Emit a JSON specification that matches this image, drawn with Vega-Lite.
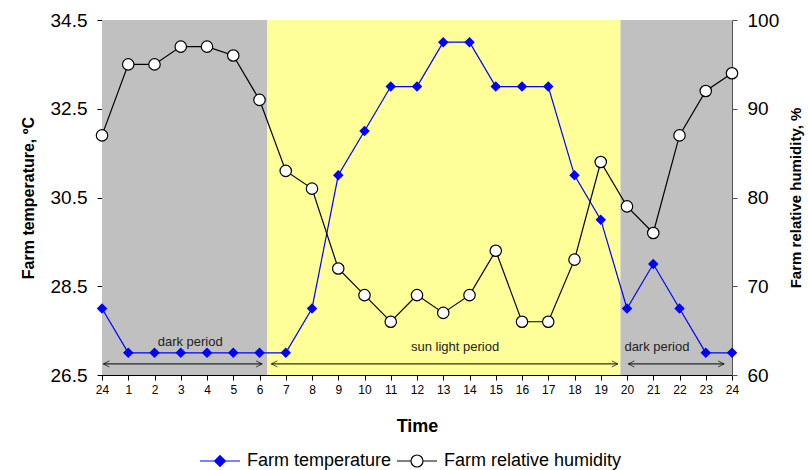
{
  "$schema": "https://vega.github.io/schema/vega-lite/v6.json",
  "width": 630,
  "height": 355,
  "autosize": {"type": "none"},
  "padding": {"left": 102, "top": 20, "right": 76, "bottom": 95},
  "config": {
    "font": "Liberation Sans",
    "view": {"stroke": null},
    "axis": {"grid": false, "domainColor": "#000", "tickColor": "#000", "labelColor": "#000", "titleColor": "#000", "domainWidth": 1, "tickWidth": 1},
    "legend": {"symbolFillColor": "#ffffff", "symbolStrokeColor": "#000000"}
  },
  "datasets": {
    "main": [
      {"i": 0, "temp": 28, "rh": 87}, {"i": 1, "temp": 27, "rh": 95}, {"i": 2, "temp": 27, "rh": 95},
      {"i": 3, "temp": 27, "rh": 97}, {"i": 4, "temp": 27, "rh": 97}, {"i": 5, "temp": 27, "rh": 96},
      {"i": 6, "temp": 27, "rh": 91}, {"i": 7, "temp": 27, "rh": 83}, {"i": 8, "temp": 28, "rh": 81},
      {"i": 9, "temp": 31, "rh": 72}, {"i": 10, "temp": 32, "rh": 69}, {"i": 11, "temp": 33, "rh": 66},
      {"i": 12, "temp": 33, "rh": 69}, {"i": 13, "temp": 34, "rh": 67}, {"i": 14, "temp": 34, "rh": 69},
      {"i": 15, "temp": 33, "rh": 74}, {"i": 16, "temp": 33, "rh": 66}, {"i": 17, "temp": 33, "rh": 66},
      {"i": 18, "temp": 31, "rh": 73}, {"i": 19, "temp": 30, "rh": 84}, {"i": 20, "temp": 28, "rh": 79},
      {"i": 21, "temp": 29, "rh": 76}, {"i": 22, "temp": 28, "rh": 87}, {"i": 23, "temp": 27, "rh": 92},
      {"i": 24, "temp": 27, "rh": 94}
    ],
    "bg": [
      {"i": 0, "i2": 6.3, "p": "dark"},
      {"i": 6.3, "i2": 19.75, "p": "light"},
      {"i": 19.75, "i2": 24, "p": "dark"}
    ],
    "arrows": [
      {"i": 0.05, "i2": 6.1, "temp": 26.75},
      {"i": 6.45, "i2": 19.65, "temp": 26.75},
      {"i": 20.05, "i2": 23.7, "temp": 26.75}
    ],
    "heads": [
      {"i": 0.05, "temp": 26.75, "d": "l"}, {"i": 6.1, "temp": 26.75, "d": "r"},
      {"i": 6.45, "temp": 26.75, "d": "l"}, {"i": 19.65, "temp": 26.75, "d": "r"},
      {"i": 20.05, "temp": 26.75, "d": "l"}, {"i": 23.7, "temp": 26.75, "d": "r"}
    ],
    "notes": [
      {"i": 3.36, "temp": 27.25, "t": "dark period"},
      {"i": 13.45, "temp": 27.14, "t": "sun light period"},
      {"i": 21.14, "temp": 27.14, "t": "dark period"}
    ],
    "leg": [
      {"i": 0, "temp": 30, "s": "Farm temperature"},
      {"i": 0, "temp": 30, "s": "Farm relative humidity"}
    ]
  },
  "encoding": {
    "x": {
      "field": "i", "type": "quantitative",
      "scale": {"domain": [0, 24], "nice": false, "zero": false},
      "axis": {
        "title": "Time",
        "values": [0, 1, 2, 3, 4, 5, 6, 7, 8, 9, 10, 11, 12, 13, 14, 15, 16, 17, 18, 19, 20, 21, 22, 23, 24],
        "labelExpr": "datum.value == 0 ? '24' : datum.label",
        "labelFontSize": 12, "labelOverlap": false, "labelFlush": false,
        "titleFontSize": 18, "titleFontWeight": "bold",
        "tickSize": 5, "labelPadding": 4, "titlePadding": 22
      }
    }
  },
  "layer": [
    {
      "layer": [
        {
          "data": {"name": "bg"},
          "mark": {"type": "rect"},
          "encoding": {
            "x2": {"field": "i2"},
            "color": {"field": "p", "type": "nominal", "scale": {"domain": ["dark", "light"], "range": ["#c0c0c0", "#ffff99"]}, "legend": null}
          }
        },
        {
          "data": {"name": "arrows"},
          "mark": {"type": "rule", "color": "#000", "strokeWidth": 1},
          "encoding": {
            "x2": {"field": "i2"},
            "y": {"field": "temp", "type": "quantitative", "scale": {"domain": [26.5, 34.5], "nice": false, "zero": false}}
          }
        },
        {
          "data": {"name": "heads"},
          "transform": [{"filter": "datum.d == 'l'"}],
          "mark": {"type": "point", "shape": "M2,-1L0,0L2,1", "filled": false, "stroke": "#000", "strokeWidth": 1, "size": 36},
          "encoding": {
            "y": {"field": "temp", "type": "quantitative", "scale": {"domain": [26.5, 34.5], "nice": false, "zero": false}}
          }
        },
        {
          "data": {"name": "heads"},
          "transform": [{"filter": "datum.d == 'r'"}],
          "mark": {"type": "point", "shape": "M-2,-1L0,0L-2,1", "filled": false, "stroke": "#000", "strokeWidth": 1, "size": 36},
          "encoding": {
            "y": {"field": "temp", "type": "quantitative", "scale": {"domain": [26.5, 34.5], "nice": false, "zero": false}}
          }
        },
        {
          "data": {"name": "notes"},
          "mark": {"type": "text", "fontSize": 13, "color": "#222", "baseline": "middle", "align": "center"},
          "encoding": {
            "y": {"field": "temp", "type": "quantitative", "scale": {"domain": [26.5, 34.5], "nice": false, "zero": false}},
            "text": {"field": "t"}
          }
        },
        {
          "data": {"name": "main"},
          "mark": {"type": "line", "color": "#0000ff", "strokeWidth": 1.2},
          "encoding": {
            "y": {
              "field": "temp", "type": "quantitative",
              "scale": {"domain": [26.5, 34.5], "nice": false, "zero": false},
              "axis": {
                "title": "Farm temperature, ºC",
                "values": [26.5, 28.5, 30.5, 32.5, 34.5], "format": ".1f",
                "labelFontSize": 19, "labelFlush": false,
                "titleFontSize": 16, "titleFontWeight": "bold",
                "tickSize": 5, "labelPadding": 10, "titlePadding": 14
              }
            }
          }
        },
        {
          "data": {"name": "main"},
          "mark": {"type": "point", "shape": "diamond", "filled": true, "color": "#0000ff", "size": 110, "opacity": 1},
          "encoding": {
            "y": {"field": "temp", "type": "quantitative", "scale": {"domain": [26.5, 34.5], "nice": false, "zero": false}}
          }
        },
        {
          "data": {"name": "leg"},
          "mark": {"type": "point", "opacity": 0, "filled": true, "size": 1600},
          "encoding": {
            "y": {"field": "temp", "type": "quantitative", "scale": {"domain": [26.5, 34.5], "nice": false, "zero": false}},
            "fill": {
              "field": "s", "type": "nominal",
              "scale": {"domain": ["Farm temperature", "Farm relative humidity"], "range": ["#0000ff", "#ffffff"]},
              "legend": {"orient": "none", "legendX": 97, "legendY": 420, "direction": "horizontal", "title": null, "symbolSize": 1600, "symbolStrokeWidth": 1.2, "symbolFillColor": "#ffffff", "symbolStrokeColor": "#000000", "labelFontSize": 18, "labelLimit": 400, "labelOffset": 6, "columnPadding": 2, "labelColor": "#000", "padding": 0}
            },
            "stroke": {
              "field": "s", "type": "nominal",
              "scale": {"domain": ["Farm temperature", "Farm relative humidity"], "range": ["#0000ff", "#000000"]},
              "legend": {"orient": "none", "legendX": 97, "legendY": 420, "direction": "horizontal", "title": null, "symbolSize": 1600, "symbolStrokeWidth": 1.2, "symbolFillColor": "#ffffff", "symbolStrokeColor": "#000000", "labelFontSize": 18, "labelLimit": 400, "labelOffset": 6, "columnPadding": 2, "labelColor": "#000", "padding": 0}
            },
            "shape": {
              "field": "s", "type": "nominal",
              "scale": {"domain": ["Farm temperature", "Farm relative humidity"], "range": ["M-1,0L1,0M0,-0.27L0.27,0L0,0.27L-0.27,0Z", "M-1,0L-0.3,0M0.3,0L1,0M0.3,0A0.3,0.3,0,1,1,-0.3,0A0.3,0.3,0,1,1,0.3,0Z"]},
              "legend": {"orient": "none", "legendX": 97, "legendY": 420, "direction": "horizontal", "title": null, "symbolSize": 1600, "symbolStrokeWidth": 1.2, "symbolFillColor": "#ffffff", "symbolStrokeColor": "#000000", "labelFontSize": 18, "labelLimit": 400, "labelOffset": 6, "columnPadding": 2, "labelColor": "#000", "padding": 0}
            }
          }
        }
      ]
    },
    {
      "data": {"name": "main"},
      "layer": [
        {
          "mark": {"type": "line", "color": "#000", "strokeWidth": 1.2},
          "encoding": {
            "y": {
              "field": "rh", "type": "quantitative",
              "scale": {"domain": [60, 100], "nice": false, "zero": false},
              "axis": {
                "orient": "right",
                "title": "Farm relative humidity, %",
                "values": [60, 70, 80, 90, 100],
                "labelFontSize": 19, "labelFlush": false,
                "domainColor": "#505050", "tickColor": "#505050",
                "titleFontSize": 15, "titleFontWeight": "bold", "titleAngle": 270, "titleBaseline": "top",
                "tickSize": 5, "labelPadding": 10, "titlePadding": 10
              }
            }
          }
        },
        {
          "mark": {"type": "point", "shape": "circle", "filled": true, "fill": "#fff", "stroke": "#000", "strokeWidth": 1.2, "size": 130, "opacity": 1},
          "encoding": {
            "y": {"field": "rh", "type": "quantitative", "scale": {"domain": [60, 100], "nice": false, "zero": false}}
          }
        }
      ]
    }
  ],
  "resolve": {"scale": {"y": "independent"}, "axis": {"y": "independent"}}
}
